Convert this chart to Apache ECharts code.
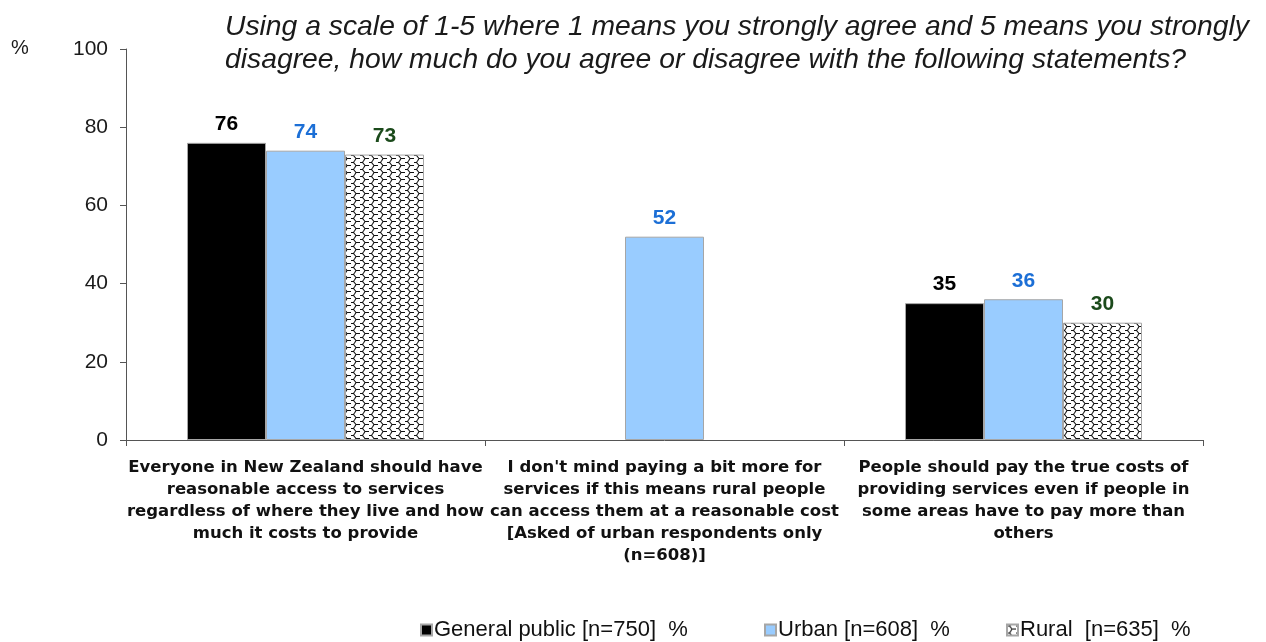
<!DOCTYPE html>
<html>
<head>
<meta charset="utf-8">
<script src="https://cdn.jsdelivr.net/npm/echarts@6/dist/echarts.min.js"></script>
<style>
  html, body { margin: 0; padding: 0; background: #fff; }
  #chart { width: 1266px; height: 642px; }
</style>
</head>
<body>
<div id="chart"></div>
<script>
// Survey statements (x-axis categories)
const categories = [
  'Everyone in New Zealand should have\nreasonable access to services\nregardless of where they live and how\nmuch it costs to provide',
  "I don't mind paying a bit more for\nservices if this means rural people\ncan access them at a reasonable cost\n[Asked of urban respondents only\n(n=608)]",
  'People should pay the true costs of\nproviding services even if people in\nsome areas have to pay more than\nothers'
];

// Share agreeing (%) per group; the middle statement was asked of urban respondents only
const generalPublic = [76, null, 35];
const urban = [74, 52, 36];
const rural = [73, null, 30];

const seriesNames = ['General public [n=750]  %', 'Urban [n=608]  %', 'Rural  [n=635]  %'];
const yTicks = [0, 20, 40, 60, 80, 100];

const titleText = 'Using a scale of 1-5 where 1 means you strongly agree and 5 means you strongly\ndisagree, how much do you agree or disagree with the following statements?';

// Shingle-style hatch tile used to fill the rural bars
function makeHatch() {
  const c = document.createElement('canvas');
  c.width = 9; c.height = 7;
  const g = c.getContext('2d');
  g.fillStyle = '#fff';
  g.fillRect(0, 0, 9, 7);
  g.strokeStyle = '#111';
  g.lineWidth = 1.1;
  g.beginPath();
  g.moveTo(0, 1.5);
  g.lineTo(2.5, 1.5);
  g.lineTo(5, 4.5);
  g.lineTo(9, 4.5);
  g.moveTo(5, 4.5);
  g.lineTo(3.5, 7);
  g.moveTo(3.5, 0);
  g.lineTo(2.5, 1.5);
  g.stroke();
  return c;
}
const hatch = { image: makeHatch(), repeat: 'repeat' };

const chart = echarts.init(document.getElementById('chart'), null, { renderer: 'canvas' });

const labelFont = { fontFamily: 'Liberation Sans, Arial, sans-serif', fontWeight: 'bold', fontSize: 21 };

function barSeries(name, data, fill, labelColor) {
  return {
    name: name,
    type: 'bar',
    data: data,
    barWidth: 79,
    barGap: '0%',
    itemStyle: { color: fill, borderColor: '#a6a6a6', borderWidth: 1 },
    label: Object.assign({ show: true, position: 'top', distance: 8, color: labelColor }, labelFont)
  };
}

function legendAt(left, name) {
  return {
    data: [name],
    left: left,
    top: 619,
    itemWidth: 11,
    itemHeight: 11,
    itemGap: 0,
    icon: 'rect',
    padding: 0,
    textStyle: { fontFamily: 'Liberation Sans, Arial, sans-serif', fontSize: 22, color: '#111', padding: [0, 0, 0, -3] }
  };
}

chart.setOption({
  animation: false,
  backgroundColor: '#fff',
  title: {
    text: titleText,
    left: 220,
    top: 6,
    textStyle: {
      fontFamily: 'Liberation Sans, Arial, sans-serif',
      fontStyle: 'italic',
      fontWeight: 'normal',
      fontSize: 28.3,
      lineHeight: 33,
      color: '#1a1a1a'
    }
  },
  graphic: [{
    type: 'text',
    left: 11,
    top: 38,
    style: { text: '%', font: '20px Liberation Sans, Arial, sans-serif', fill: '#1a1a1a' }
  }],
  legend: [
    legendAt(420, seriesNames[0]),
    legendAt(764, seriesNames[1]),
    legendAt(1006, seriesNames[2])
  ],
  grid: { left: 126, right: 63, top: 49, bottom: 202, containLabel: false },
  xAxis: {
    type: 'category',
    data: categories,
    axisLine: { lineStyle: { color: '#555', width: 1 } },
    axisTick: { show: true, interval: 0, length: 6, alignWithLabel: false, lineStyle: { color: '#555' } },
    axisLabel: {
      interval: 0,
      margin: 17,
      fontFamily: 'DejaVu Sans, Verdana, sans-serif',
      fontWeight: 'bold',
      fontSize: 16.5,
      lineHeight: 22,
      color: '#111',
      align: 'center'
    }
  },
  yAxis: {
    type: 'value',
    min: yTicks[0],
    max: yTicks[yTicks.length - 1],
    interval: yTicks[1] - yTicks[0],
    splitLine: { show: false },
    axisLine: { show: true, lineStyle: { color: '#555', width: 1 } },
    axisTick: { show: true, length: 6, lineStyle: { color: '#555' } },
    axisLabel: {
      margin: 18,
      fontFamily: 'Liberation Sans, Arial, sans-serif',
      fontSize: 21,
      color: '#1a1a1a'
    }
  },
  series: [
    barSeries(seriesNames[0], generalPublic, '#000000', '#000000'),
    barSeries(seriesNames[1], urban, '#99ccff', '#1c6fd6'),
    barSeries(seriesNames[2], rural, hatch, '#1b4a1b')
  ]
});
</script>
</body>
</html>
